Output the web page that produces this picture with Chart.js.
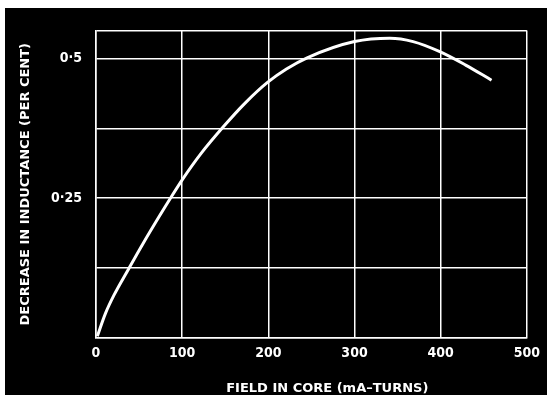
<!DOCTYPE html>
<html>
<head>
<meta charset="utf-8">
<script src="https://cdn.jsdelivr.net/npm/chart.js@4"></script>
<style>
    body { margin: 0; background: #fff; }
    #holder { position: absolute; left: 5px; top: 8px; width: 542px; height: 387px; background: #000; }
</style>
</head>
<body>
<div id="holder"><canvas id="grafico"></canvas></div>
<script>
// valores
const campo = [1.5, 11, 21, 38, 55, 74, 86, 101, 122, 148, 173, 199, 221, 245, 300, 341, 368, 399, 429, 459];
const decrescimo = [0.003, 0.044, 0.077, 0.124, 0.170, 0.219, 0.249, 0.285, 0.330, 0.378, 0.420, 0.457, 0.481, 0.501, 0.530, 0.536, 0.530, 0.512, 0.488, 0.461];
const ticksX = [0, 100, 200, 300, 400, 500];
const ticksY = [0, 0.125, 0.25, 0.375, 0.5, 0.55];
const rotulosY = ['', '', '0·25', '', '0·5', ''];

const fonteNum = "'Liberation Sans Narrow', 'DejaVu Sans Condensed', sans-serif";
const fonteTitulo = "'DejaVu Sans', sans-serif";

const pontos = campo.map((x, i) => ({ x: x, y: decrescimo[i] }));

const ctx = document.getElementById('grafico').getContext('2d');
new Chart(ctx, {
    type: 'line',
    data: {
        datasets: [{
            data: pontos,
            borderColor: '#fff',
            borderWidth: 3,
            pointRadius: 0,
            cubicInterpolationMode: 'monotone',
            fill: false
        }]
    },
    options: {
        responsive: true,
        maintainAspectRatio: false,
        animation: false,
        layout: { padding: { left: 0, right: 15, top: 14, bottom: 0 } },
        plugins: { legend: { display: false }, tooltip: { enabled: false } },
        scales: {
            x: {
                type: 'linear',
                min: 0,
                max: 500,
                afterBuildTicks: s => { s.ticks = ticksX.map(v => ({ value: v })); },
                afterFit: s => { s.height = 57; },
                grid: { color: '#fff', lineWidth: 1.5, drawTicks: false },
                border: { color: '#fff', width: 1.5 },
                ticks: {
                    color: '#fff',
                    padding: 7,
                    maxRotation: 0,
                    font: { family: fonteNum, size: 14, weight: 'bold' }
                },
                title: {
                    display: true,
                    text: '       FIELD IN CORE (mA–TURNS)',
                    color: '#fff',
                    padding: { top: 0, bottom: 0 },
                    font: { family: fonteTitulo, size: 13, weight: 'bold', lineHeight: 1 }
                }
            },
            y: {
                min: 0,
                max: 0.55,
                afterBuildTicks: s => { s.ticks = ticksY.map(v => ({ value: v })); },
                afterFit: s => { s.width = 91; },
                grid: { color: '#fff', lineWidth: 1.5, drawTicks: false },
                border: { color: '#fff', width: 1.5 },
                ticks: {
                    color: '#fff',
                    padding: 14,
                    font: { family: fonteNum, size: 14, weight: 'bold' },
                    callback: (valor, i) => rotulosY[i]
                },
                title: {
                    display: true,
                    text: 'DECREASE IN INDUCTANCE (PER CENT)',
                    color: '#fff',
                    padding: { top: 13, bottom: 0 },
                    font: { family: fonteTitulo, size: 13, weight: 'bold', lineHeight: 1.2 }
                }
            }
        }
    }
});
</script>
</body>
</html>
